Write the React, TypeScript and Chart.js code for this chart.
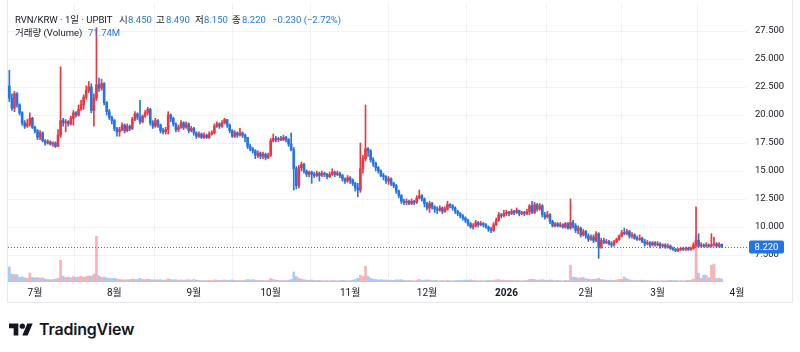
import React, { useEffect, useRef } from 'react';
import { Chart, registerables } from 'chart.js';

Chart.register(...registerables);

// Day index 0 = 2025-07-01; first candle is 2025-06-21
const startDay = -10;

const opens = [
  22.6, 21.5, 20.6, 21.9, 20.9, 20.2, 19.3, 19.0, 19.2, 19.7,
  18.9, 18.6, 18.0, 18.4, 17.7, 17.5, 17.6, 17.4, 17.5, 17.2,
  18.2, 19.5, 19.3, 19.4, 19.2, 19.7, 20.2, 20.0, 20.5, 20.9,
  21.6, 22.2, 22.5, 20.4, 21.5, 22.7, 22.4, 22.8, 21.1, 20.3,
  19.8, 19.5, 18.8, 18.5, 18.7, 19.1, 18.6, 19.0, 18.8, 19.6,
  20.1, 19.8, 19.4, 19.9, 20.2, 20.5, 19.3, 19.0, 19.5, 19.1,
  18.6, 18.5, 18.7, 20.0, 19.7, 19.2, 18.7, 18.9, 19.3, 18.9,
  19.2, 18.6, 18.8, 18.4, 18.1, 18.3, 18.0, 18.2, 18.0, 18.3,
  18.4, 19.0, 19.2, 19.0, 19.3, 19.6, 19.1, 18.6, 18.1, 18.4,
  18.2, 18.4, 18.2, 18.0, 17.2, 17.0, 16.8, 16.4, 16.6, 16.3,
  16.5, 16.2, 16.4, 17.7, 17.9, 17.8, 17.9, 17.8, 18.0, 17.8,
  17.4, 16.9, 15.2, 13.7, 15.3, 15.6, 15.0, 14.7, 14.9, 14.7,
  14.6, 14.8, 14.6, 14.8, 14.7, 14.5, 14.7, 14.9, 14.7, 14.8,
  14.6, 14.3, 14.1, 14.4, 14.2, 13.9, 13.5, 13.3, 15.2, 16.1,
  17.0, 16.8, 16.0, 15.7, 15.3, 15.0, 14.6, 14.5, 14.1, 14.3,
  13.9, 13.7, 13.2, 12.8, 12.3, 12.2, 12.3, 12.1, 12.3, 12.2,
  12.6, 12.8, 12.5, 12.1, 11.7, 12.1, 11.8, 11.6, 11.5, 11.7,
  11.4, 11.6, 12.0, 11.9, 11.7, 11.4, 11.2, 11.0, 10.8, 10.6,
  10.3, 10.0, 10.1, 10.4, 10.2, 10.3, 10.2, 10.0, 9.8, 9.7,
  10.2, 10.6, 11.1, 11.0, 11.2, 11.3, 11.2, 11.4, 11.3, 11.5,
  11.2, 11.3, 11.2, 11.4, 11.9, 11.3, 12.0, 11.6, 11.9, 11.1,
  10.9, 11.1, 10.5, 10.1, 10.3, 10.1, 10.2, 10.0, 10.3, 9.9,
  10.4, 10.1, 9.7, 9.9, 9.3, 9.6, 9.2, 8.9, 9.1, 8.8,
  9.4, 8.2, 8.8, 8.6, 8.7, 8.5, 8.4, 8.7, 8.9, 9.2,
  9.5, 9.4, 9.6, 9.2, 9.3, 9.0, 8.9, 9.0, 8.7, 8.5,
  8.6, 8.4, 8.6, 8.4, 8.5, 8.3, 8.4, 8.2, 8.3, 8.1,
  8.0, 7.9, 8.0, 8.1, 8.0, 8.1, 8.0, 8.1, 8.4, 8.8,
  8.3, 8.4, 8.3, 8.4, 8.3, 8.4, 8.5, 8.3, 8.45,
];

const highs = [
  24.0, 21.9, 22.1, 22.0, 21.0, 20.3, 19.5, 19.6, 20.2, 19.8,
  19.0, 18.7, 18.6, 18.5, 17.8, 17.8, 17.7, 17.6, 17.6, 18.7,
  24.3, 19.7, 19.6, 19.5, 19.9, 20.4, 20.3, 20.9, 21.3, 21.8,
  22.6, 23.0, 22.8, 21.9, 27.8, 23.3, 23.2, 22.9, 21.2, 20.5,
  19.9, 19.6, 18.9, 18.9, 19.3, 19.2, 19.2, 19.1, 19.8, 20.3,
  20.2, 21.3, 20.0, 20.4, 20.7, 20.6, 19.5, 19.7, 19.6, 19.2,
  18.8, 18.9, 20.3, 20.1, 19.8, 19.3, 19.1, 19.5, 19.4, 19.4,
  19.3, 19.0, 18.9, 18.5, 18.5, 18.4, 18.4, 18.3, 18.5, 18.6,
  19.2, 19.4, 19.3, 19.5, 19.7, 19.6, 19.2, 18.7, 18.6, 18.5,
  18.8, 18.5, 18.3, 18.0, 17.4, 17.1, 16.9, 16.8, 16.7, 16.7,
  16.6, 16.6, 17.9, 18.3, 18.1, 18.0, 18.1, 18.2, 18.1, 17.9,
  18.4, 17.1, 15.4, 15.5, 15.8, 15.7, 15.1, 15.0, 15.0, 14.9,
  15.0, 14.9, 15.0, 14.9, 14.8, 14.9, 15.2, 15.0, 15.0, 14.9,
  14.7, 14.4, 14.6, 14.5, 14.3, 14.0, 13.9, 17.5, 16.4, 20.9,
  17.1, 16.9, 16.2, 15.8, 15.4, 15.1, 14.8, 14.6, 14.5, 14.4,
  14.0, 13.8, 13.3, 12.9, 12.5, 12.5, 12.4, 12.5, 12.4, 12.8,
  13.3, 12.9, 12.6, 12.2, 12.3, 12.2, 11.9, 11.8, 11.9, 11.8,
  11.8, 12.3, 12.1, 12.0, 11.8, 11.5, 11.3, 11.1, 10.9, 10.7,
  10.4, 10.3, 10.6, 10.5, 10.5, 10.4, 10.3, 10.1, 10.0, 10.4,
  10.8, 11.3, 11.2, 11.5, 11.5, 11.4, 11.6, 11.5, 11.7, 11.5,
  11.4, 11.4, 11.6, 12.0, 12.3, 12.2, 12.1, 12.1, 12.0, 11.3,
  11.4, 11.2, 10.6, 10.4, 10.4, 10.4, 10.3, 10.4, 10.4, 12.5,
  10.6, 10.3, 10.1, 10.0, 9.8, 9.7, 9.4, 9.3, 9.3, 9.6,
  9.5, 9.0, 9.0, 8.9, 8.8, 8.7, 8.8, 9.0, 9.3, 9.7,
  9.9, 9.8, 9.7, 9.5, 9.4, 9.2, 9.3, 9.1, 8.9, 8.8,
  8.7, 8.7, 8.7, 8.7, 8.6, 8.5, 8.5, 8.5, 8.4, 8.2,
  8.1, 8.1, 8.2, 8.2, 8.2, 8.2, 8.2, 8.6, 11.8, 9.4,
  8.6, 8.5, 8.6, 8.5, 9.4, 9.1, 8.6, 8.6, 8.49,
];

const lows = [
  21.2, 20.4, 20.3, 20.7, 20.0, 19.1, 18.8, 18.9, 19.0, 18.8,
  18.4, 17.8, 17.8, 17.6, 17.3, 17.4, 17.3, 17.2, 17.1, 17.2,
  18.0, 19.0, 18.5, 19.0, 19.1, 19.1, 19.8, 19.9, 20.4, 20.5,
  21.4, 22.0, 20.2, 19.0, 21.3, 22.1, 22.2, 20.9, 20.0, 19.6,
  19.2, 18.6, 18.1, 18.1, 18.6, 18.4, 18.5, 18.6, 18.7, 19.5,
  19.6, 19.2, 19.3, 19.8, 20.0, 19.1, 18.8, 18.9, 18.9, 18.4,
  18.3, 18.3, 18.3, 19.4, 19.0, 18.5, 18.5, 18.8, 18.7, 18.8,
  18.4, 18.5, 18.2, 17.9, 18.0, 17.9, 17.9, 17.9, 17.9, 18.2,
  18.3, 18.9, 18.8, 18.9, 19.2, 18.9, 18.4, 18.0, 18.0, 18.0,
  18.1, 18.0, 17.6, 17.0, 16.8, 16.6, 16.1, 16.2, 16.1, 16.1,
  16.0, 16.1, 16.3, 17.6, 17.6, 17.6, 17.7, 17.7, 17.6, 17.2,
  16.8, 13.3, 13.4, 13.5, 15.0, 14.8, 14.5, 14.5, 13.9, 14.4,
  14.5, 14.1, 14.5, 14.5, 14.3, 14.4, 14.6, 14.5, 14.6, 14.4,
  14.1, 13.9, 14.0, 13.9, 13.7, 13.2, 12.7, 13.1, 14.8, 15.9,
  16.3, 15.8, 15.4, 15.0, 14.8, 14.5, 14.2, 13.9, 13.8, 13.7,
  13.5, 13.0, 12.6, 12.1, 12.0, 12.0, 12.0, 12.0, 12.0, 12.1,
  12.5, 12.3, 11.8, 11.5, 11.3, 11.6, 11.3, 11.2, 11.4, 11.2,
  11.3, 11.5, 11.7, 11.5, 11.2, 11.0, 10.8, 10.6, 10.4, 10.1,
  9.9, 9.8, 10.0, 10.0, 10.1, 10.0, 9.9, 9.6, 9.5, 9.6,
  10.1, 10.5, 10.8, 10.9, 11.0, 11.0, 11.1, 11.1, 11.2, 11.0,
  11.1, 11.0, 11.1, 11.1, 11.2, 11.2, 11.4, 11.5, 10.9, 10.7,
  10.8, 10.3, 10.0, 10.0, 10.0, 10.0, 9.9, 9.9, 9.8, 9.8,
  9.9, 9.5, 9.4, 9.1, 9.2, 9.0, 8.7, 8.8, 8.6, 8.7,
  7.2, 8.1, 8.5, 8.5, 8.4, 8.2, 8.3, 8.6, 8.8, 9.1,
  9.3, 9.3, 9.0, 9.0, 8.9, 8.8, 8.8, 8.6, 8.3, 8.4,
  8.2, 8.3, 8.3, 8.3, 8.1, 8.2, 8.1, 8.1, 8.0, 7.9,
  7.8, 7.8, 7.9, 7.9, 7.9, 7.9, 7.9, 8.0, 8.2, 8.2,
  8.2, 8.2, 8.2, 8.2, 8.2, 8.3, 8.2, 8.2, 8.15,
];

const closes = [
  21.5, 20.6, 21.9, 20.9, 20.2, 19.3, 19.0, 19.2, 19.7, 18.9,
  18.6, 18.0, 18.4, 17.7, 17.5, 17.6, 17.4, 17.5, 17.2, 18.2,
  19.5, 19.3, 19.4, 19.2, 19.7, 20.2, 20.0, 20.5, 20.9, 21.6,
  22.2, 22.5, 20.4, 21.5, 22.7, 22.4, 22.8, 21.1, 20.3, 19.8,
  19.5, 18.8, 18.5, 18.7, 19.1, 18.6, 19.0, 18.8, 19.6, 20.1,
  19.8, 19.4, 19.9, 20.2, 20.5, 19.3, 19.0, 19.5, 19.1, 18.6,
  18.5, 18.7, 20.0, 19.7, 19.2, 18.7, 18.9, 19.3, 18.9, 19.2,
  18.6, 18.8, 18.4, 18.1, 18.3, 18.0, 18.2, 18.0, 18.3, 18.4,
  19.0, 19.2, 19.0, 19.3, 19.6, 19.1, 18.6, 18.1, 18.4, 18.2,
  18.4, 18.2, 18.0, 17.2, 17.0, 16.8, 16.4, 16.6, 16.3, 16.5,
  16.2, 16.4, 17.7, 17.9, 17.8, 17.9, 17.8, 18.0, 17.8, 17.4,
  16.9, 15.2, 13.7, 15.3, 15.6, 15.0, 14.7, 14.9, 14.7, 14.6,
  14.8, 14.6, 14.8, 14.7, 14.5, 14.7, 14.9, 14.7, 14.8, 14.6,
  14.3, 14.1, 14.4, 14.2, 13.9, 13.5, 13.3, 15.2, 16.1, 17.0,
  16.8, 16.0, 15.7, 15.3, 15.0, 14.6, 14.5, 14.1, 14.3, 13.9,
  13.7, 13.2, 12.8, 12.3, 12.2, 12.3, 12.1, 12.3, 12.2, 12.6,
  12.8, 12.5, 12.1, 11.7, 12.1, 11.8, 11.6, 11.5, 11.7, 11.4,
  11.6, 12.0, 11.9, 11.7, 11.4, 11.2, 11.0, 10.8, 10.6, 10.3,
  10.0, 10.1, 10.4, 10.2, 10.3, 10.2, 10.0, 9.8, 9.7, 10.2,
  10.6, 11.1, 11.0, 11.2, 11.3, 11.2, 11.4, 11.3, 11.5, 11.2,
  11.3, 11.2, 11.4, 11.9, 11.3, 12.0, 11.6, 11.9, 11.1, 10.9,
  11.1, 10.5, 10.1, 10.3, 10.1, 10.2, 10.0, 10.3, 9.9, 10.4,
  10.1, 9.7, 9.9, 9.3, 9.6, 9.2, 8.9, 9.1, 8.8, 9.4,
  8.2, 8.8, 8.6, 8.7, 8.5, 8.4, 8.7, 8.9, 9.2, 9.5,
  9.4, 9.6, 9.2, 9.3, 9.0, 8.9, 9.0, 8.7, 8.5, 8.6,
  8.4, 8.6, 8.4, 8.5, 8.3, 8.4, 8.2, 8.3, 8.1, 8.0,
  7.9, 8.0, 8.1, 8.0, 8.1, 8.0, 8.1, 8.4, 8.8, 8.3,
  8.4, 8.3, 8.4, 8.3, 8.4, 8.5, 8.3, 8.45, 8.22,
];

// volume in millions
const volumes = [
  360, 190, 180, 175, 110, 120, 100, 90, 215, 110,
  100, 105, 95, 100, 70, 60, 55, 60, 70, 90,
  520, 140, 110, 120, 100, 130, 110, 120, 140, 110,
  130, 150, 140, 190, 1100, 150, 110, 120, 100, 90,
  80, 90, 70, 60, 55, 50, 55, 60, 70, 65,
  60, 90, 60, 55, 70, 60, 50, 55, 50, 55,
  45, 50, 75, 60, 50, 55, 45, 50, 45, 50,
  55, 45, 60, 45, 40, 35, 40, 35, 40, 35,
  50, 45, 40, 45, 50, 40, 45, 50, 40, 35,
  40, 35, 45, 60, 50, 55, 45, 40, 35, 40,
  35, 40, 80, 60, 45, 40, 35, 40, 35, 45,
  60, 240, 130, 90, 70, 55, 45, 40, 50, 40,
  35, 40, 35, 30, 35, 30, 40, 35, 30, 35,
  40, 35, 30, 35, 45, 60, 90, 160, 130, 380,
  140, 90, 70, 60, 50, 55, 45, 50, 40, 45,
  40, 55, 50, 55, 40, 35, 40, 35, 30, 45,
  60, 40, 45, 50, 45, 35, 40, 35, 30, 35,
  30, 45, 35, 30, 35, 40, 35, 40, 45, 40,
  50, 40, 35, 30, 35, 30, 35, 40, 35, 45,
  50, 60, 40, 45, 40, 35, 40, 35, 40, 35,
  30, 35, 40, 60, 70, 55, 45, 50, 55, 45,
  40, 50, 45, 35, 40, 35, 30, 40, 35, 400,
  120, 110, 90, 100, 110, 80, 70, 60, 65, 70,
  90, 60, 50, 45, 40, 45, 40, 50, 60, 65,
  120, 80, 55, 45, 40, 35, 40, 45, 40, 35,
  40, 35, 30, 35, 30, 35, 30, 35, 40, 35,
  40, 30, 35, 30, 35, 40, 45, 70, 1100, 210,
  90, 170, 160, 100, 400, 430, 80, 90, 71.74,
];

const monthTicks = [0, 31, 62, 92, 123, 153, 184, 215, 243, 274];
const monthLabels = ['7월', '8월', '9월', '10월', '11월', '12월', '2026', '2월', '3월', '4월'];
const priceTicks = [7.5, 10, 12.5, 15, 17.5, 20, 22.5, 25, 27.5];
const lastPrice = 8.22;

const UP = '#F0353F';
const DOWN = '#2375E6';
const UP_VOL = 'rgba(240,53,63,0.38)';
const DOWN_VOL = 'rgba(35,117,230,0.38)';
const GRID = 'rgba(42,46,57,0.06)';
const TEXT = '#131722';
const FONT = 'Roboto, "Noto Sans CJK KR", sans-serif';

const days = closes.map((_, i) => startDay + i);
const isUp = (i: number) => closes[i] >= opens[i];

const overlayPlugin = {
  id: 'overlay',
  beforeDraw(chart: any) {
    const ctx = chart.ctx;
    ctx.save();
    ctx.strokeStyle = '#E6E8EE';
    ctx.lineWidth = 1;
    ctx.beginPath();
    ctx.moveTo(7.5, 0);
    ctx.lineTo(7.5, 302.5);
    ctx.lineTo(792.5, 302.5);
    ctx.lineTo(792.5, 0);
    ctx.stroke();
    ctx.restore();
  },
  afterDatasetsDraw(chart: any) {
    const ctx = chart.ctx;
    const y = Math.round(chart.scales.y.getPixelForValue(lastPrice)) + 0.5;
    ctx.save();
    ctx.strokeStyle = DOWN;
    ctx.lineWidth = 1;
    ctx.setLineDash([1, 2]);
    ctx.beginPath();
    ctx.moveTo(chart.chartArea.left, y);
    ctx.lineTo(chart.chartArea.right + 3, y);
    ctx.stroke();
    ctx.restore();
  },
  afterDraw(chart: any) {
    const ctx = chart.ctx;
    const y = chart.scales.y.getPixelForValue(lastPrice);
    ctx.save();
    ctx.fillStyle = DOWN;
    ctx.beginPath();
    if (ctx.roundRect) ctx.roundRect(749, Math.round(y) - 6.5, 35, 13, 2);
    else ctx.rect(749, Math.round(y) - 6.5, 35, 13);
    ctx.fill();
    ctx.fillStyle = '#ffffff';
    ctx.font = `9.5px ${FONT}`;
    ctx.textAlign = 'center';
    ctx.textBaseline = 'middle';
    ctx.fillText(lastPrice.toFixed(3), 766.5, Math.round(y) + 0.5);
    ctx.restore();
  },
};

function CandleChart() {
  const ref = useRef<HTMLCanvasElement | null>(null);
  useEffect(() => {
    if (!ref.current) return;
    const chart = new Chart(ref.current, {
      type: 'bar',
      data: {
        datasets: [
          {
            label: 'body',
            data: days.map((d, i) => ({ x: d, y: [opens[i], closes[i]] })) as any,
            backgroundColor: days.map((_, i) => (isUp(i) ? UP : DOWN)),
            barThickness: 2,
            minBarLength: 1,
            grouped: false,
            order: 1,
            yAxisID: 'y',
          } as any,
          {
            label: 'wick',
            data: days.map((d, i) => ({ x: d, y: [lows[i], highs[i]] })) as any,
            backgroundColor: days.map((_, i) => (isUp(i) ? UP : DOWN)),
            barThickness: 1,
            grouped: false,
            order: 2,
            yAxisID: 'y',
          } as any,
          {
            label: 'volume',
            data: days.map((d, i) => ({ x: d, y: volumes[i] })) as any,
            backgroundColor: days.map((_, i) => (isUp(i) ? UP_VOL : DOWN_VOL)),
            barThickness: 2,
            grouped: false,
            order: 3,
            yAxisID: 'yv',
          } as any,
        ],
      },
      options: {
        animation: false,
        responsive: false,
        devicePixelRatio: 1,
        layout: { padding: { left: 8, right: 8, top: 3, bottom: 0 } },
        plugins: { legend: { display: false }, tooltip: { enabled: false } },
        scales: {
          x: {
            type: 'linear',
            min: -10.52,
            max: 277.5,
            offset: false,
            grid: { color: GRID, drawTicks: false },
            border: { display: false },
            ticks: {
              autoSkip: false,
              maxRotation: 0,
              padding: 5,
              color: TEXT,
              font: (ctx: any) => ({
                family: FONT,
                size: 10,
                weight: ctx.tick && ctx.tick.value === 184 ? 'bold' : 'normal',
              }),
              callback: (_v: any, i: number) => monthLabels[i],
            },
            afterBuildTicks: (s: any) => {
              s.ticks = monthTicks.map((v) => ({ value: v }));
            },
            afterFit: (s: any) => {
              s.height = 21;
              s.paddingLeft = 0;
              s.paddingRight = 0;
            },
          } as any,
          y: {
            position: 'right',
            min: 5.09,
            max: 30.0,
            grid: { color: GRID, drawTicks: false },
            border: { display: false },
            ticks: {
              padding: 9,
              color: TEXT,
              font: { family: FONT, size: 9.5 },
              callback: (v: any) => Number(v).toFixed(3),
            },
            afterBuildTicks: (s: any) => {
              s.ticks = priceTicks.map((v) => ({ value: v }));
            },
            afterFit: (s: any) => {
              s.width = 46;
              s.paddingTop = 0;
              s.paddingBottom = 0;
            },
          } as any,
          yv: {
            display: false,
            min: 0,
            max: 6700,
            afterFit: (s: any) => {
              s.paddingTop = 0;
              s.paddingBottom = 0;
            },
          } as any,
        },
      },
      plugins: [overlayPlugin],
    });
    return () => chart.destroy();
  }, []);
  return (
    <canvas
      ref={ref}
      width={800}
      height={303}
      style={{ position: 'absolute', left: 0, top: 0, width: 800, height: 303 }}
    />
  );
}

const txt: React.CSSProperties = {
  position: 'absolute',
  font: `9.5px ${FONT}`,
  color: TEXT,
  whiteSpace: 'nowrap',
  lineHeight: '12px',
};

export default function App() {
  const blue = { ...txt, color: DOWN };
  return (
    <div
      style={{
        position: 'fixed',
        left: 0,
        top: 0,
        width: 800,
        height: 352,
        background: '#ffffff',
        overflow: 'hidden',
      }}
    >
      <CandleChart />
      <span style={{ ...txt, left: 15, top: 14 }}>RVN/KRW · 1일 · UPBIT</span>
      <span style={{ ...txt, left: 119, top: 14 }}>시</span>
      <span style={{ ...blue, left: 128, top: 14 }}>8.450</span>
      <span style={{ ...txt, left: 156, top: 14 }}>고</span>
      <span style={{ ...blue, left: 166, top: 14 }}>8.490</span>
      <span style={{ ...txt, left: 195, top: 14 }}>저</span>
      <span style={{ ...blue, left: 204, top: 14 }}>8.150</span>
      <span style={{ ...txt, left: 232, top: 14 }}>종</span>
      <span style={{ ...blue, left: 242, top: 14 }}>8.220</span>
      <span style={{ ...blue, left: 272, top: 14 }}>−0.230 (−2.72%)</span>
      <span style={{ ...txt, left: 15, top: 27 }}>거래량 (Volume)</span>
      <span style={{ ...blue, left: 88, top: 27 }}>71.74M</span>
      <div style={{ position: 'absolute', left: 9, top: 319, display: 'flex', alignItems: 'center' }}>
        <svg width="24" height="13" viewBox="0 4 36 18">
          <path d="M14 22H7V11H0V4h14v18zM28 22h-8l7.5-18h8L28 22z" fill={TEXT} />
          <circle cx="20" cy="8" r="4" fill={TEXT} />
        </svg>
        <span
          style={{
            font: '600 16px Inter, sans-serif',
            color: TEXT,
            marginLeft: 6,
            letterSpacing: '-0.2px',
          }}
        >
          TradingView
        </span>
      </div>
    </div>
  );
}
